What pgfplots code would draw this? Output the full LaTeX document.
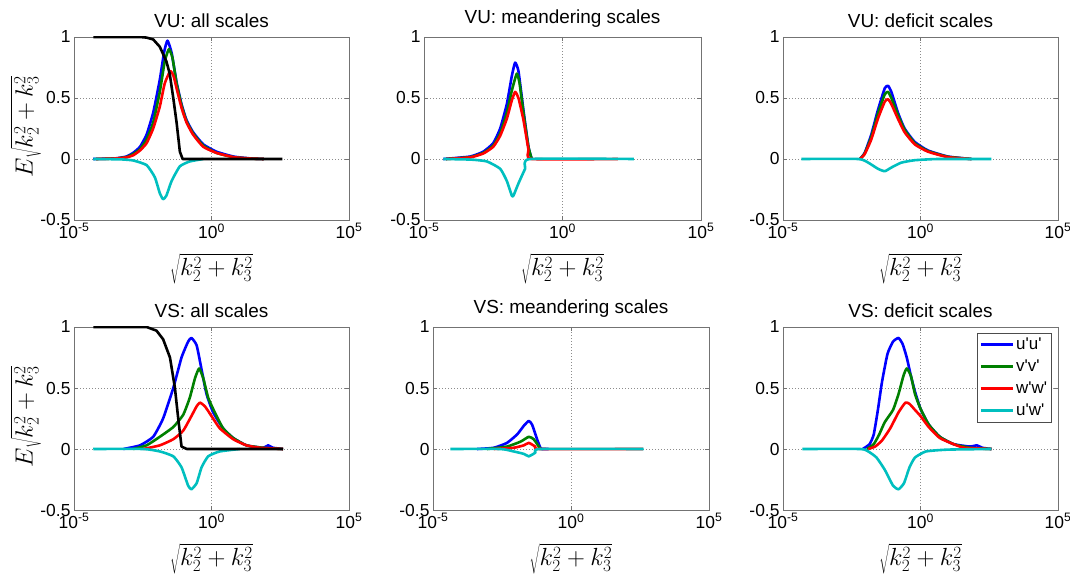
\documentclass[border=0pt]{standalone}
\usepackage{fontspec}
\setmainfont{Liberation Sans}[Ligatures=TeXOff]
\usepackage{pgfplots}
\pgfplotsset{compat=1.18}
\definecolor{mblue}{rgb}{0,0,1}
\definecolor{mgreen}{rgb}{0,0.5,0}
\definecolor{mred}{rgb}{1,0,0}
\definecolor{mcyan}{rgb}{0,0.75,0.75}
\pgfplotsset{
  panel/.style={
    scale only axis, width=275bp, height=183bp, anchor=south west,
    xmin=-5, xmax=5, ymin=-0.5, ymax=1,
    xtick={-5,0,5}, xticklabels={10\textsuperscript{-5},10\textsuperscript{0},10\textsuperscript{5}},
    ytick={-0.5,0,0.5,1}, yticklabels={-0.5,0,0.5,1},
    grid=major, major grid style={dash pattern=on 1bp off 2bp, black!45, line width=0.6pt},
    axis line style={black!55, line width=0.8pt}, tick style={black!55, line width=0.6pt}, tick align=inside, major tick length=4bp,
    ticklabel style={font=\fontsize{17.5}{20}\selectfont, black},
    title style={font=\fontsize{19}{22}\selectfont, yshift=0bp},
    xlabel={$\sqrt{k_2^2+k_3^2}$}, label style={font=\fontsize{25}{29}\selectfont},
    xlabel style={at={(axis description cs:0.5,-0.265)}, anchor=center},
    every axis plot/.append style={line width=2.6bp, line join=round, smooth, tension=0.3},
  }
}
\begin{document}
\begin{tikzpicture}
\useasboundingbox (0,0) rectangle (1070bp,578bp);
% ---------------- VU all
\begin{axis}[panel, at={(74bp,358bp)}, title={VU: all scales}, ylabel={$E\sqrt{k_2^2+k_3^2}$},
  ylabel style={at={(axis description cs:-0.175,0.51)}, anchor=center}]
\addplot[mblue] coordinates {(-4.3,0) (-3.5,0.005) (-3.1,0.02) (-2.85,0.05) (-2.6,0.1) (-2.36,0.2) (-2.12,0.38) (-1.88,0.65) (-1.72,0.88) (-1.6,0.97) (-1.45,0.87) (-1.27,0.63) (-1.09,0.45) (-0.91,0.32) (-0.67,0.22) (-0.3,0.12) (0.18,0.06) (0.8,0.02) (1.4,0.005) (1.9,0)};
\addplot[mgreen] coordinates {(-4.2,0) (-3.5,0.004) (-3.1,0.015) (-2.85,0.04) (-2.6,0.08) (-2.36,0.16) (-2.12,0.3) (-1.88,0.55) (-1.7,0.8) (-1.55,0.9) (-1.42,0.83) (-1.27,0.62) (-1.09,0.44) (-0.91,0.31) (-0.67,0.21) (-0.3,0.11) (0.18,0.05) (0.8,0.015) (1.4,0.004) (1.9,0)};
\addplot[mred] coordinates {(-4.2,0) (-3.5,0.004) (-3.1,0.013) (-2.85,0.03) (-2.6,0.07) (-2.36,0.13) (-2.12,0.25) (-1.88,0.43) (-1.7,0.62) (-1.5,0.72) (-1.38,0.68) (-1.27,0.58) (-1.09,0.42) (-0.91,0.3) (-0.67,0.2) (-0.3,0.1) (0.18,0.05) (0.8,0.015) (1.4,0.004) (1.9,0)};
\addplot[mcyan] coordinates {(-4.3,0) (-3.3,-0.003) (-2.85,-0.012) (-2.36,-0.05) (-2.06,-0.15) (-1.88,-0.28) (-1.76,-0.33) (-1.64,-0.3) (-1.45,-0.18) (-1.15,-0.06) (-0.79,-0.02) (-0.3,0)};
\addplot[black, sharp plot] coordinates {(-4.3,1) (-2.6,1) (-2.36,0.995) (-2.12,0.98) (-1.88,0.92) (-1.64,0.8) (-1.52,0.7) (-1.39,0.5) (-1.27,0.3) (-1.15,0.06) (-1.05,0) (2.58,0)};
\end{axis}
% ---------------- VU meandering
\begin{axis}[panel, at={(424bp,358bp)}, width=277bp, title={VU: meandering scales}]
\addplot[mblue] coordinates {(-4.3,0) (-3.34,0.02) (-2.86,0.06) (-2.5,0.13) (-2.25,0.25) (-2.01,0.45) (-1.83,0.68) (-1.71,0.79) (-1.59,0.72) (-1.41,0.4) (-1.23,0.1) (-1.11,0)};
\addplot[mgreen] coordinates {(-4.2,0) (-3.34,0.015) (-2.86,0.05) (-2.5,0.11) (-2.25,0.21) (-2.01,0.38) (-1.83,0.56) (-1.65,0.7) (-1.55,0.62) (-1.41,0.38) (-1.23,0.1) (-1.11,0)};
\addplot[mred] coordinates {(-4.2,0) (-3.34,0.013) (-2.86,0.045) (-2.5,0.1) (-2.25,0.19) (-2.01,0.33) (-1.83,0.48) (-1.71,0.55) (-1.59,0.5) (-1.41,0.32) (-1.23,0.08) (-1.11,0) (2.0,0)};
\addplot[mcyan] coordinates {(-4.3,0) (-3.3,-0.005) (-2.73,-0.02) (-2.25,-0.08) (-2.01,-0.18) (-1.83,-0.3) (-1.77,-0.3) (-1.59,-0.2) (-1.35,-0.08) (-1.17,0) (2.58,0)};
\end{axis}
% ---------------- VU deficit
\begin{axis}[panel, at={(783bp,358bp)}, title={VU: deficit scales}]
\addplot[mblue] coordinates {(-2.2,0) (-2.03,0.05) (-1.79,0.2) (-1.55,0.4) (-1.3,0.58) (-1.18,0.6) (-1.06,0.55) (-0.82,0.38) (-0.58,0.25) (-0.21,0.14) (0.27,0.07) (1.0,0.02) (1.85,0)};
\addplot[mgreen] coordinates {(-2.2,0) (-2.03,0.045) (-1.79,0.18) (-1.55,0.37) (-1.3,0.53) (-1.18,0.55) (-1.06,0.5) (-0.82,0.36) (-0.58,0.24) (-0.21,0.13) (0.27,0.065) (1.0,0.018) (1.85,0)};
\addplot[mred] coordinates {(-2.2,0) (-2.03,0.04) (-1.79,0.16) (-1.55,0.33) (-1.3,0.47) (-1.18,0.49) (-1.06,0.45) (-0.82,0.33) (-0.58,0.22) (-0.21,0.12) (0.27,0.06) (1.0,0.015) (1.85,0)};
\addplot[mcyan] coordinates {(-4.33,0) (-2.27,0) (-1.9,-0.03) (-1.55,-0.08) (-1.3,-0.1) (-1.06,-0.07) (-0.7,-0.03) (-0.21,-0.01) (0.64,0) (2.58,0)};
\end{axis}
% ---------------- VS all
\begin{axis}[panel, at={(74bp,68bp)}, title={VS: all scales}, ylabel={$E\sqrt{k_2^2+k_3^2}$},
  ylabel style={at={(axis description cs:-0.175,0.51)}, anchor=center}]
\addplot[mblue] coordinates {(-3.2,0) (-2.6,0.03) (-2.12,0.1) (-1.76,0.25) (-1.39,0.5) (-1.09,0.75) (-0.85,0.88) (-0.73,0.91) (-0.54,0.85) (-0.36,0.65) (-0.18,0.45) (0.06,0.3) (0.42,0.17) (0.79,0.09) (1.27,0.03) (1.88,0.01) (2.06,0.03) (2.24,0.01) (2.6,0)};
\addplot[mgreen] coordinates {(-2.85,0) (-2.36,0.03) (-1.88,0.1) (-1.39,0.18) (-1.03,0.28) (-0.79,0.42) (-0.6,0.58) (-0.45,0.66) (-0.3,0.58) (-0.12,0.42) (0.12,0.3) (0.42,0.17) (0.79,0.09) (1.27,0.03) (1.88,0.01) (2.6,0)};
\addplot[mred] coordinates {(-2.48,0) (-1.88,0.03) (-1.39,0.08) (-1.03,0.15) (-0.73,0.27) (-0.54,0.35) (-0.42,0.38) (-0.24,0.35) (0,0.27) (0.3,0.17) (0.79,0.08) (1.27,0.03) (1.76,0.01) (2.6,0)};
\addplot[mcyan] coordinates {(-4.3,0) (-2.48,0) (-1.88,-0.02) (-1.39,-0.06) (-1.09,-0.15) (-0.85,-0.3) (-0.73,-0.33) (-0.54,-0.28) (-0.36,-0.15) (-0.12,-0.06) (0.3,-0.02) (1.03,0)};
\addplot[black, sharp plot] coordinates {(-4.3,1) (-2.36,1) (-2.0,0.97) (-1.76,0.9) (-1.51,0.75) (-1.33,0.5) (-1.21,0.25) (-1.09,0.02) (-0.9,0) (2.6,0)};
\end{axis}
% ---------------- VS meandering
\begin{axis}[panel, at={(433bp,68bp)}, width=276bp, title={VS: meandering scales}]
\addplot[mblue] coordinates {(-3.4,0) (-2.8,0.01) (-2.32,0.05) (-1.95,0.12) (-1.71,0.19) (-1.53,0.23) (-1.41,0.2) (-1.23,0.08) (-1.11,0.01) (-1.05,0) (-0.81,0)};
\addplot[mgreen] coordinates {(-3.04,0) (-2.32,0.02) (-1.83,0.06) (-1.53,0.1) (-1.35,0.08) (-1.11,0)};
\addplot[mred] coordinates {(-2.8,0) (-2.08,0.01) (-1.71,0.03) (-1.53,0.05) (-1.29,0.02) (-1.11,0) (2.6,0)};
\addplot[mcyan] coordinates {(-4.37,0) (-2.56,0) (-2.08,-0.02) (-1.71,-0.04) (-1.53,-0.06) (-1.29,-0.03) (-1.11,0) (2.63,0)};
\end{axis}
% ---------------- VS deficit
\begin{axis}[panel, at={(783bp,68bp)}, title={VS: deficit scales},
  legend style={at={(0.978,0.967)}, anchor=north east, draw=black!70, line width=0.6pt, font=\fontsize{17}{20}\selectfont, row sep=5bp, inner sep=2.5bp},
  legend cell align=left,
  legend image code/.code={\draw[#1, sharp plot] (0bp,0bp) -- (32bp,0bp);}]
\addplot[mblue] coordinates {(-2.1,0) (-1.85,0.04) (-1.7,0.12) (-1.55,0.32) (-1.4,0.55) (-1.2,0.78) (-1.0,0.88) (-0.8,0.91) (-0.65,0.86) (-0.5,0.75) (-0.35,0.6) (-0.2,0.47) (0,0.33) (0.3,0.2) (0.7,0.1) (1.2,0.04) (1.8,0.02) (2.05,0.03) (2.25,0.01) (2.58,0)};
\addplot[mgreen] coordinates {(-1.95,0) (-1.7,0.04) (-1.5,0.12) (-1.3,0.22) (-1.0,0.32) (-0.8,0.45) (-0.62,0.6) (-0.5,0.66) (-0.35,0.6) (-0.2,0.45) (0,0.33) (0.3,0.2) (0.7,0.1) (1.2,0.04) (1.8,0.01) (2.58,0)};
\addplot[mred] coordinates {(-1.9,0) (-1.65,0.02) (-1.4,0.07) (-1.1,0.17) (-0.8,0.3) (-0.55,0.38) (-0.4,0.37) (-0.2,0.32) (0,0.27) (0.3,0.18) (0.7,0.09) (1.2,0.04) (1.6,0.01) (2.58,0)};
\addplot[mcyan] coordinates {(-4.3,0) (-2.2,0) (-1.9,-0.02) (-1.6,-0.07) (-1.3,-0.17) (-1.0,-0.3) (-0.8,-0.33) (-0.6,-0.28) (-0.4,-0.15) (-0.2,-0.07) (0.2,-0.02) (1,-0.005) (2.58,0)};
\legend{u'u',v'v',w'w',u'w'}
\end{axis}
\end{tikzpicture}
\end{document}
